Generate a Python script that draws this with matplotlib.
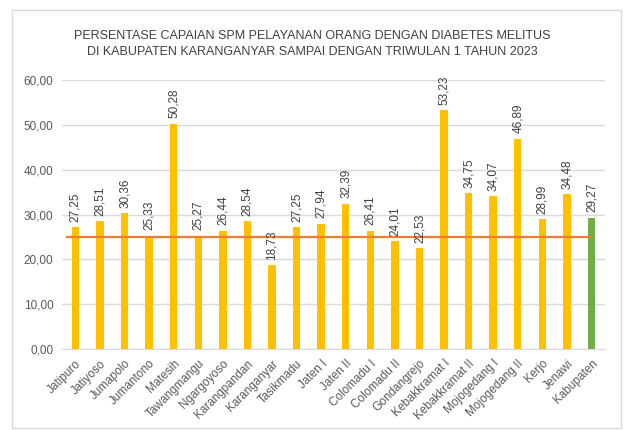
import matplotlib
matplotlib.use("Agg")
import matplotlib.pyplot as plt

plt.rcParams["font.family"] = ["Liberation Sans", "DejaVu Sans"]

kecamatan = ["Jatipuro", "Jatiyoso", "Jumapolo", "Jumantono", "Matesih", "Tawangmangu",
             "Ngargoyoso", "Karangpandan", "Karanganyar", "Tasikmadu", "Jaten I", "Jaten II",
             "Colomadu I", "Colomadu II", "Gondangrejo", "Kebakkramat I", "Kebakkramat II",
             "Mojogedang I", "Mojogedang II", "Kerjo", "Jenawi", "Kabupaten"]
capaian = [27.25, 28.51, 30.36, 25.33, 50.28, 25.27, 26.44, 28.54, 18.73, 27.25, 27.94, 32.39,
           26.41, 24.01, 22.53, 53.23, 34.75, 34.07, 46.89, 28.99, 34.48, 29.27]
target = 25
y_ticks = [0, 10, 20, 30, 40, 50, 60]

fig = plt.figure(figsize=(6.25, 4.3), dpi=100)
fig.patches.append(plt.Rectangle((0.019, 0.005), 0.975, 0.972, transform=fig.transFigure,
                                 fill=False, edgecolor="#D9D9D9", linewidth=1))
ax = fig.add_axes([0.099, 0.188, 0.869, 0.626])

x = range(len(kecamatan))
colors = ["#FFC000"] * (len(kecamatan) - 1) + ["#70AD47"]
ax.bar(x, capaian, width=0.3, color=colors, zorder=2)
ax.plot([-0.35, len(kecamatan) - 1], [target, target], color="#ED7D31", linewidth=1.6, zorder=3)

for i, v in enumerate(capaian):
    ax.text(i, v + 1.2, f"{v:.2f}".replace(".", ","), rotation=90, ha="center", va="bottom",
            fontsize=8.5, color="#404040")

ax.set_ylim(0, 60)
ax.set_xlim(-0.55, len(kecamatan) - 0.45)
ax.set_yticks(y_ticks)
ax.set_yticklabels([f"{t:.2f}".replace(".", ",") for t in y_ticks], fontsize=8.5, color="#595959")
ax.set_xticks(list(x))
ax.set_xticklabels(kecamatan, rotation=45, ha="right", rotation_mode="anchor", fontsize=8.5,
                   color="#595959")
ax.tick_params(length=0, pad=6)
ax.grid(axis="y", color="#D9D9D9", linewidth=1, zorder=0)
for s in ["top", "right", "left"]:
    ax.spines[s].set_visible(False)
ax.spines["bottom"].set_color("#D9D9D9")

fig.text(0.5, 0.898, "PERSENTASE CAPAIAN SPM PELAYANAN ORANG DENGAN DIABETES MELITUS\n"
         "DI KABUPATEN KARANGANYAR SAMPAI DENGAN TRIWULAN 1 TAHUN 2023",
         ha="center", va="center", fontsize=9, color="#404040", linespacing=1.45)

fig.savefig("out.png", dpi=100)
